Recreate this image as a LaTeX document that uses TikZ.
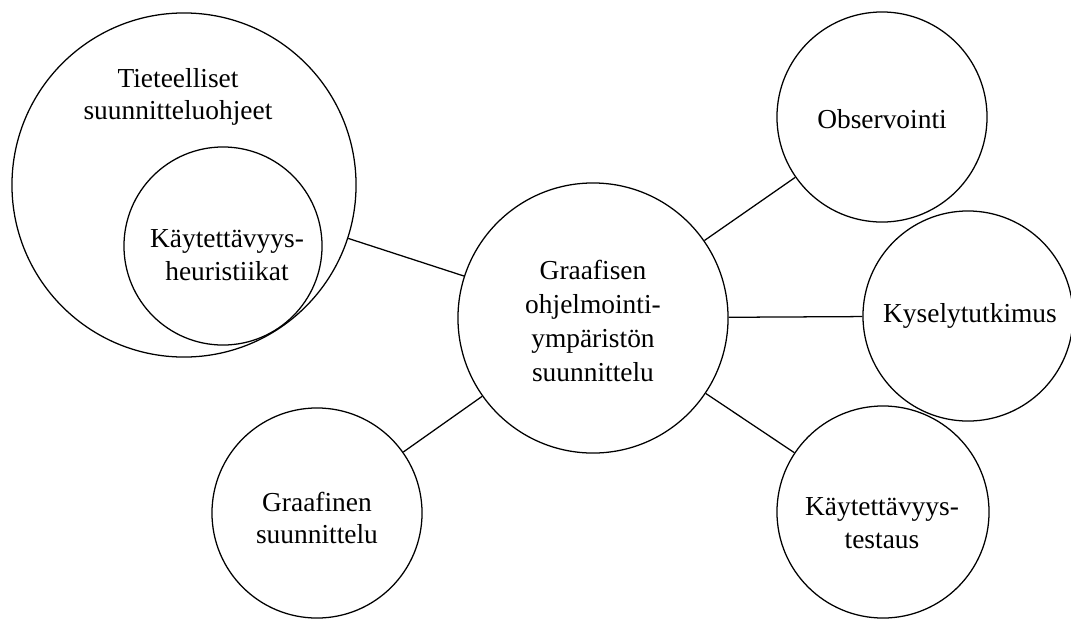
\documentclass[tikz,border=0pt]{standalone}
\usepackage{fontspec}
\setmainfont{Liberation Serif}
\usepackage{tikz}
\usetikzlibrary{shapes.geometric}

\begin{document}
\begin{tikzpicture}[x=0.025cm, y=-0.025cm, line width=0.9pt, font=\fontsize{19.5}{23}\selectfont]
			% Frame of the page:
			\useasboundingbox (0, 0) rectangle (1071, 619);
			% Circles:
			\node[draw, shape=circle, minimum size=8.6cm](N1) at (184, 185){};
			\node[draw, shape=circle, minimum size=4.95cm](N2) at (223, 246){};
			\node[draw, shape=circle, minimum size=6.75cm](N3) at (593, 318){};
			\node[draw, shape=circle, minimum size=5.25cm](N4) at (882, 117){};
			\node[draw, shape=circle, minimum size=5.25cm](N5) at (968, 316){};
			\node[draw, shape=circle, minimum size=5.3cm](N6) at (883, 512){};
			\node[draw, shape=circle, minimum size=5.25cm](N7) at (317, 513){};
			% Texts:
			\node[align=center](T1) at (178, 97){Tieteelliset\\suunnitteluohjeet};
			\node[align=center](T2) at (227, 255){Käytettävyys-\\heuristiikat};
			\node[align=center, font=\fontsize{19.5}{24}\selectfont](T3) at (593, 321){Graafisen\\ohjelmointi-\\ympäristön\\suunnittelu};
			\node[align=center](T4) at (882, 119){Observointi};
			\node[align=center](T5) at (970, 316){Kyselytutkimus};
			\node[align=center](T6) at (882, 523){Käytettävyys-\\testaus};
			\node[align=center](T7) at (317, 518){Graafinen\\suunnittelu};
			% Wires:
			\draw (N1) -- (N3);
			\draw (N3) -- (N4);
			\draw (N3) -- (N5);
			\draw (N3) -- (N6);
			\draw (N3) -- (N7);
		\end{tikzpicture}
\end{document}
